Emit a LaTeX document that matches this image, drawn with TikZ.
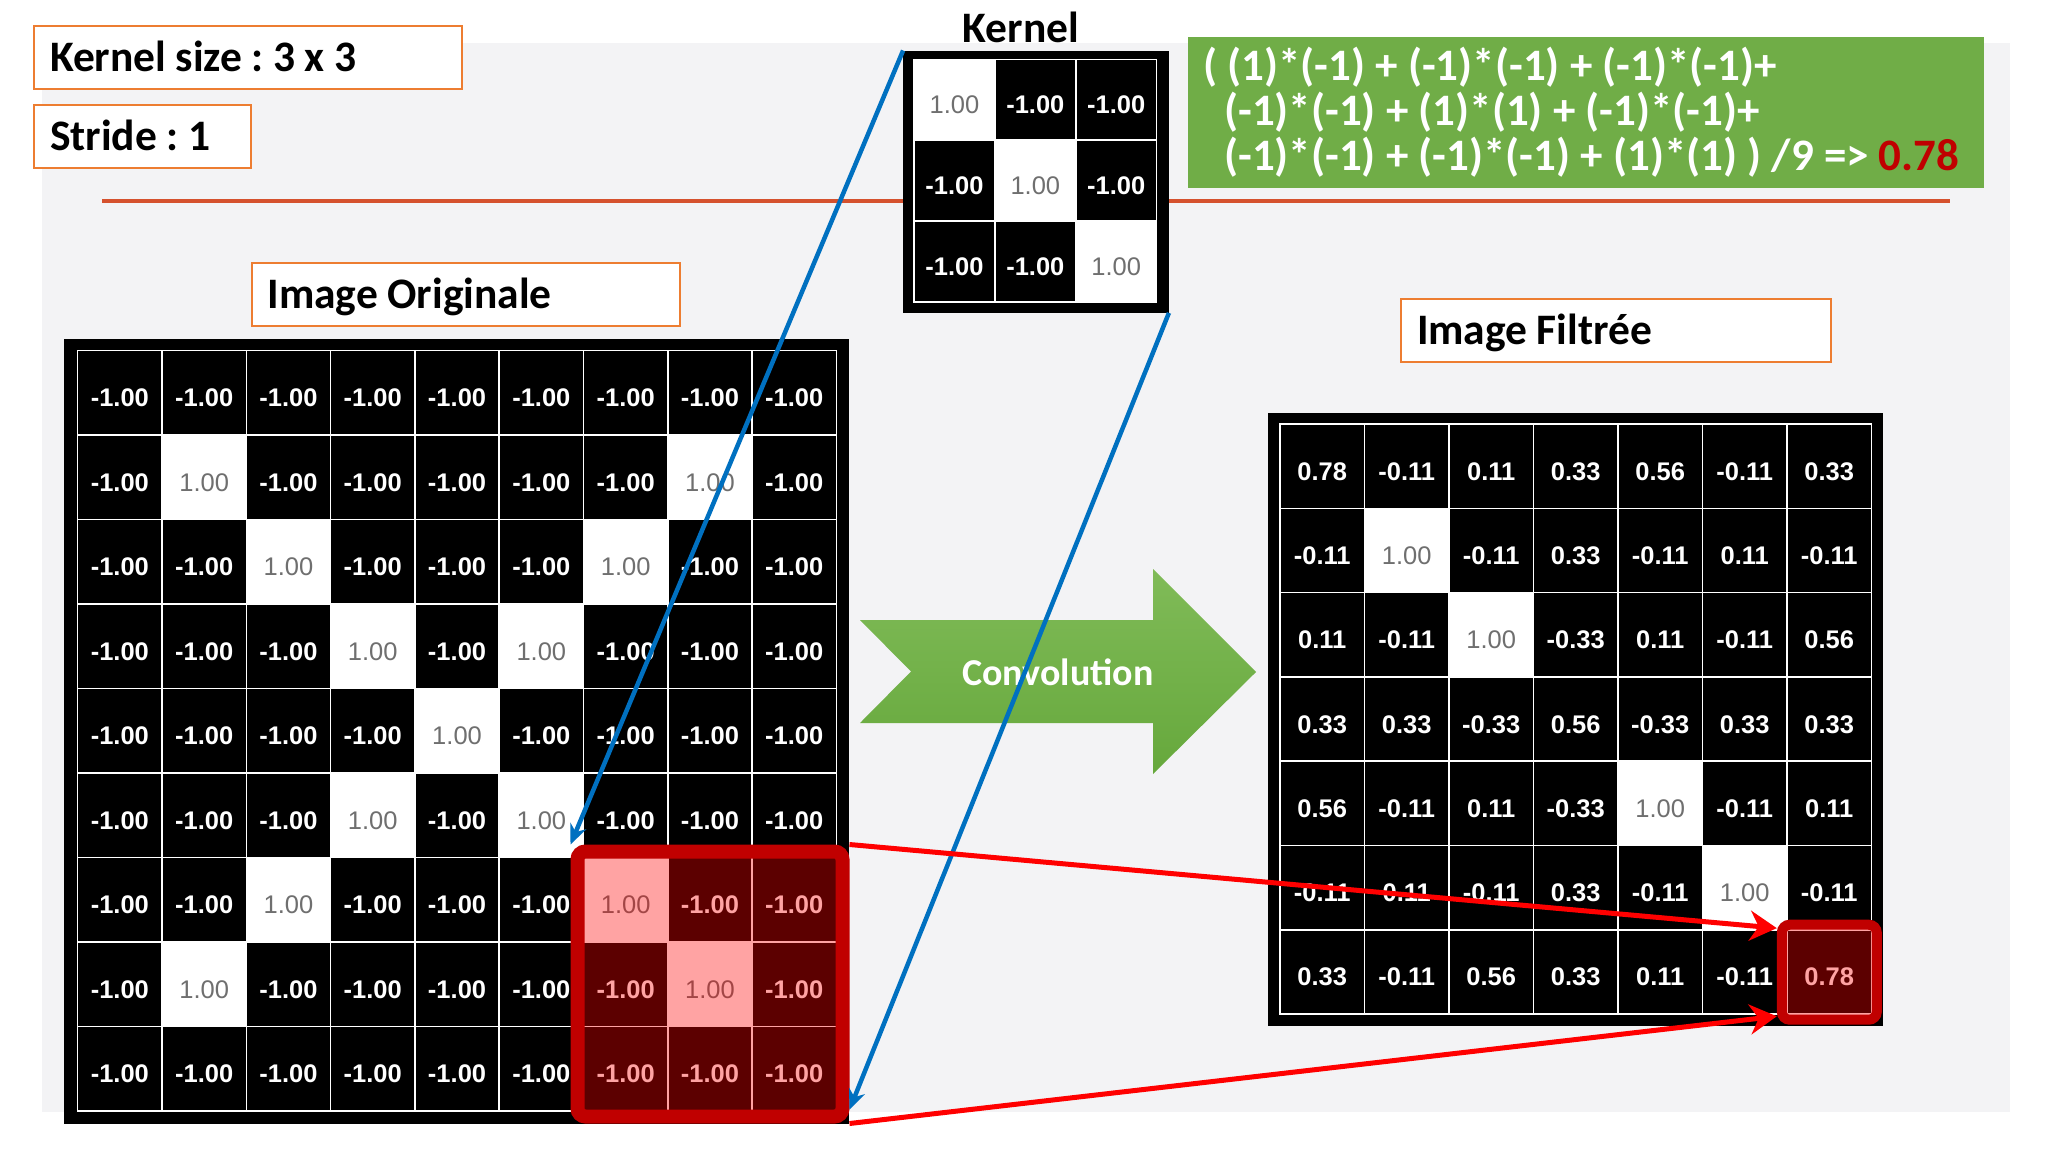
\documentclass[tikz,border=0pt]{standalone}
\usepackage{fontspec}
\setmainfont{Liberation Sans}
\newfontfamily\lblfont{Carlito}
\usetikzlibrary{arrows.meta}
\frenchspacing
\definecolor{bggrey}{HTML}{F3F3F5}
\definecolor{boxline}{HTML}{ED7D31}
\definecolor{rulered}{HTML}{D5512E}
\definecolor{calcgreen}{HTML}{70AD47}
\definecolor{resred}{HTML}{C00000}
\definecolor{linkblue}{HTML}{0070C0}
\definecolor{numgrey}{HTML}{6F6F6F}
\definecolor{arrowtop}{HTML}{80BB58}
\definecolor{arrowbot}{HTML}{66A83C}
\begin{document}
\begin{tikzpicture}[x=1pt,y=-1pt,
  lbl/.style={draw=boxline,line width=2pt,fill=white,anchor=north west,minimum height=63pt,inner xsep=16pt,align=left,text height=28pt,text depth=0pt,font=\lblfont\bfseries\fontsize{43.5}{50}\selectfont,execute at begin node={\spaceskip=9.5pt plus 2pt minus 1pt\relax}},
  frame/.style={fill=black,inner sep=0pt},
  bcell/.style={fill=black,draw=white,line width=1.5pt,inner sep=0pt,text=white,text height=28pt,text depth=0pt,font=\bfseries\fontsize{25.5}{30}\selectfont},
  wcell/.style={bcell,fill=white,text=numgrey,font=\fontsize{25.5}{30}\selectfont},
  hilite/.style={draw=resred,fill=red,fill opacity=.36,draw opacity=1,rounded corners=8pt,inner sep=0pt},
  calctxt/.style={anchor=base west,inner sep=0pt,text=white,font=\lblfont\bfseries\fontsize{45}{50}\selectfont},
  blink/.style={linkblue,line width=4.5pt,-{Stealth[length=20pt,width=17pt]}},
  rlink/.style={red,line width=5pt,-{Stealth[length=27pt,width=30pt]}}]
\fill[white] (0,0) rectangle (2048,1152);
\useasboundingbox (0,0) rectangle (2048,1152);
\fill[bggrey] (42,43) rectangle (2010,1112);
\coordinate (ruleL) at (102,201); \coordinate (ruleR) at (1950,201);
\draw[rulered,line width=4pt] (ruleL) -- (ruleR);
\node[lbl,text width=396pt] (ksize) at (33,25) {Kernel size : 3 x 3};
\node[lbl,text width=185pt] (stride) at (33,104) {Stride : 1};
\node[lbl,text width=396pt] (origlbl) at (250.5,262) {Image Originale};
\node[lbl,text width=398pt] (filtlbl) at (1400,298) {Image Filtrée};
\node[anchor=base,inner sep=0pt,font=\lblfont\bfseries\fontsize{43.5}{50}\selectfont] (kerlbl) at (1021,42) {Kernel};
\node[frame,minimum width=265.4pt,minimum height=262pt] (ker) at (1036,181.7) {};
\foreach \r in {0,1,2}{\foreach \c in {0,1,2}{
  \ifnum\r=\c \node[wcell,minimum size=80.9pt] (k-\r-\c) at (954.45+80.9*\c,99.75+80.8*\r) {1.00};
  \else \node[bcell,minimum size=80.9pt] (k-\r-\c) at (954.45+80.9*\c,99.75+80.8*\r) {-1.00}; \fi}}
\node[fill=calcgreen,minimum width=796pt,minimum height=151pt,inner sep=0pt] (calc) at (1586,112.5) {};
\node[calctxt] (calc1) at (1203,80) {( (1)*(-1) + (-1)*(-1) + (-1)*(-1)+};
\node[calctxt] (calc2) at (1224,125) {(-1)*(-1) + (1)*(1) + (-1)*(-1)+};
\node[calctxt] (calc3) at (1224,170) {(-1)*(-1) + (-1)*(-1) + (1)*(1) ) /9 => \textcolor{resred}{0.78}};
\node[frame,minimum size=785pt] (orig) at (456.5,731.5) {};
\foreach \r in {0,...,8}{\foreach \c in {0,...,8}{
  \pgfmathtruncatemacro\isone{((\r==\c)||(\r+\c==8))&&(\r>0)&&(\r<8)}
  \ifnum\isone=1 \node[wcell,minimum width=84.3pt,minimum height=84.5pt] (o-\r-\c) at (119.85+84.3*\c,392.95+84.5*\r) {1.00};
  \else \node[bcell,minimum width=84.3pt,minimum height=84.5pt] (o-\r-\c) at (119.85+84.3*\c,392.95+84.5*\r) {-1.00}; \fi}}
\shade[top color=arrowtop,bottom color=arrowbot] (860,620) -- (1153,620) -- (1153,569) -- (1256,672) -- (1153,774) -- (1153,723) -- (860,723) -- (911,671.5) -- cycle;
\node[anchor=base,inner sep=0pt,text=white,font=\lblfont\bfseries\fontsize{38}{44}\selectfont] (conv) at (1058,685) {Convolution};
\node[frame,minimum width=615pt,minimum height=613pt] (filt) at (1575.5,719.5) {};
\foreach \vals [count=\r from 0] in {{0.78,-0.11,0.11,0.33,0.56,-0.11,0.33},{-0.11,1.00,-0.11,0.33,-0.11,0.11,-0.11},{0.11,-0.11,1.00,-0.33,0.11,-0.11,0.56},{0.33,0.33,-0.33,0.56,-0.33,0.33,0.33},{0.56,-0.11,0.11,-0.33,1.00,-0.11,0.11},{-0.11,0.11,-0.11,0.33,-0.11,1.00,-0.11},{0.33,-0.11,0.56,0.33,0.11,-0.11,0.78}}{
  \foreach \v [count=\c from 0] in \vals {
  \ifdim\v pt>0.99pt \node[wcell,minimum width=84.5pt,minimum height=84.3pt] (f-\r-\c) at (1322.25+84.5*\c,466.15+84.3*\r) {\v};
  \else \node[bcell,minimum width=84.5pt,minimum height=84.3pt] (f-\r-\c) at (1322.25+84.5*\c,466.15+84.3*\r) {\v}; \fi}}
\node[hilite,line width=14pt,minimum size=265pt] (hl) at (710,984) {};
\node[hilite,line width=10pt,minimum size=95pt] (hlf) at (1829.3,972.2) {};
\draw[blink] (ker.north west) -- (hl.north west);
\draw[blink] (ker.south east) -- (hl.-42);
\draw[rlink] (hl.north east) -- (hlf.140);
\draw[rlink] (hl.south east) -- (hlf.220);
\end{tikzpicture}
\end{document}
